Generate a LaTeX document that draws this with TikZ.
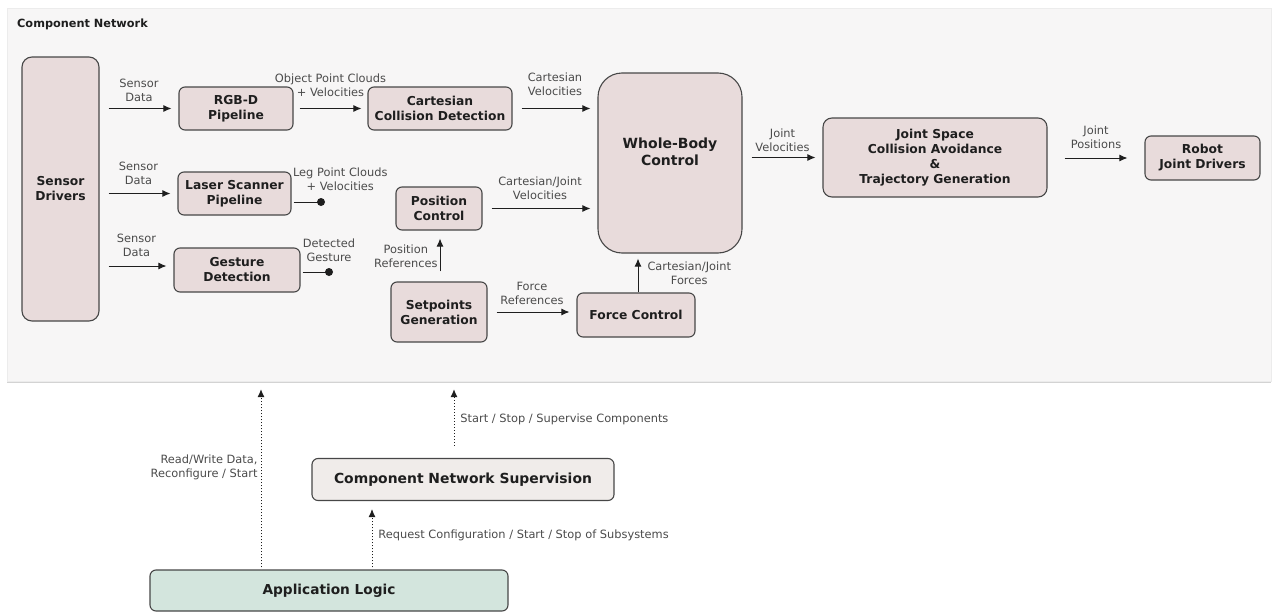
\documentclass[tikz,border=0pt]{standalone}
\usepackage{fontspec}
\setmainfont{DejaVu Sans}
\usepackage{tikz}
\usetikzlibrary{arrows.meta,shadows}
\definecolor{netPanelFill}{HTML}{F7F6F6}
\definecolor{netBoxFill}{HTML}{E8DBDB}
\definecolor{netBoxDraw}{HTML}{474747}
\definecolor{netSupFill}{HTML}{F0ECEA}
\definecolor{netAppFill}{HTML}{D3E5DD}
\definecolor{netText}{HTML}{1E1E1E}

\begin{document}
\begin{tikzpicture}[x=1pt, y=-1pt,
    box/.style={draw=netBoxDraw, fill=netBoxFill, line width=1.1pt, rounded corners=6pt,
      align=center, text=netText, inner sep=0pt, font=\bfseries\fontsize{12.3}{15}\selectfont},
    lbl/.style={font=\fontsize{11.4}{14}\selectfont, text=netText!80, align=center, inner sep=3pt},
    flow/.style={-{Latex[length=8pt,width=7pt]}, line width=1pt, draw=netText,
      shorten <=9pt, shorten >=7pt},
    ctrl/.style={flow, dotted, line width=0.9pt, shorten <=2pt, shorten >=8pt}]
    \useasboundingbox (0,0) rectangle (1274,613);

    % component network panel
    \node[draw=gray!15, fill=netPanelFill, minimum width=1264pt, minimum height=373pt,
      drop shadow={shadow xshift=0pt, shadow yshift=-1.5pt, opacity=0.35}] (network) at (639,194.5) {};
    \node[anchor=west, inner sep=0pt, text=netText, font=\bfseries\fontsize{11.3}{13}\selectfont] (nettitle) at (17,24) {Component Network};

    \node[box, rounded corners=10pt, minimum width=77pt, minimum height=264pt] (drivers) at (60.5,189) {Sensor\\Drivers};
    \node[box, minimum width=114pt, minimum height=43pt] (rgbd) at (236,108.5) {RGB-D\\Pipeline};
    \node[box, minimum width=113pt, minimum height=43pt] (laser) at (234.5,193.5) {Laser Scanner\\Pipeline};
    \node[box, minimum width=126pt, minimum height=44pt] (gesture) at (237,270) {Gesture\\Detection};
    \node[box, minimum width=144pt, minimum height=43pt] (cartesian) at (440,108.5) {Cartesian\\Collision Detection};
    \node[box, minimum width=86pt, minimum height=43pt] (position) at (439,208.5) {Position\\Control};
    \node[box, minimum width=96pt, minimum height=60pt] (setpoints) at (439,312) {Setpoints\\Generation};
    \node[box, minimum width=118pt, minimum height=44pt] (force) at (636,315) {Force Control};
    \node[box, rounded corners=24pt, minimum width=144pt, minimum height=180pt,
      font=\bfseries\fontsize{14}{17}\selectfont] (wbc) at (670,163) {Whole-Body\\Control\\[6pt]};
    \node[box, rounded corners=9pt, minimum width=224pt, minimum height=79pt] (jointspace) at (935,157.5)
      {Joint Space\\Collision Avoidance\\\&\\Trajectory Generation};
    \node[box, minimum width=115pt, minimum height=44pt] (robot) at (1202.5,158) {Robot\\Joint Drivers};

    \coordinate (legdot) at (321,202);
    \coordinate (gesturedot) at (329,272);

    % data flow inside the network
    \draw[flow] (drivers.east |- rgbd.west) -- node[lbl, above, yshift=3.5pt] {Sensor\\Data} (rgbd.west);
    \draw[flow] (drivers.east |- laser.west) -- node[lbl, above, yshift=5pt] {Sensor\\Data} (laser.west);
    \draw[flow] ([yshift=4pt]drivers.east |- gesture.west) -- node[lbl, above, yshift=6pt] {Sensor\\Data} ([yshift=4pt]gesture.west);
    \draw[flow, shorten <=6pt, shorten >=6pt] (rgbd.east) -- node[lbl, above, yshift=8pt] {Object Point Clouds\\+ Velocities} (cartesian.west);
    \draw[line width=1pt, netText, shorten <=2pt] (legdot -| laser.east) -- node[lbl, above right, pos=0, yshift=8pt, xshift=-2pt] {Leg Point Clouds\\+ Velocities} (legdot);
    \fill[netText] (legdot) circle (4pt);
    \draw[line width=1pt, netText, shorten <=2pt] (gesturedot -| gesture.east) -- (gesturedot);
    \fill[netText] (gesturedot) circle (4pt) node[lbl, above=7pt] {Detected\\Gesture};
    \draw[flow] (cartesian.east) -- node[lbl, above, yshift=9pt] {Cartesian\\Velocities} (cartesian.east -| wbc.west);
    \draw[flow] (position.east) -- node[lbl, above, yshift=5pt] {Cartesian/Joint\\Velocities} (position.east -| wbc.west);
    \draw[flow, shorten <=10pt, shorten >=8pt] ([xshift=1pt]position.south |- setpoints.north) -- node[lbl, left, inner sep=2pt] {Position\\References} ([xshift=1pt]position.south);
    \draw[flow] (setpoints.east) -- node[lbl, above, yshift=3.5pt] {Force\\References} (setpoints.east -| force.west);
    \draw[flow, shorten <=0pt, shorten >=5pt] ([xshift=2pt]force.north) -- node[lbl, right, xshift=6pt] {Cartesian/Joint\\Forces} ([xshift=2pt]force.north |- wbc.south);
    \draw[flow] (wbc.east |- jointspace.west) -- node[lbl, above, yshift=2.5pt] {Joint\\Velocities} (jointspace.west);
    \draw[flow, shorten <=17pt, shorten >=17pt] (jointspace.east |- robot.west) -- node[lbl, above, yshift=6pt] {Joint\\Positions} (robot.west);

    % supervision and application logic
    \node[box, fill=netSupFill, minimum width=302pt, minimum height=42pt,
      font=\bfseries\fontsize{13.9}{16}\selectfont] (supervision) at (463,479.5) {Component Network Supervision};
    \node[box, fill=netAppFill, minimum width=358pt, minimum height=41pt,
      font=\bfseries\fontsize{13.7}{16}\selectfont] (applogic) at (329,590.5) {Application Logic};

    \draw[ctrl] ([xshift=-68pt]applogic.north) -- node[lbl, left, pos=0.54, align=right] {Read/Write Data,\\Reconfigure / Start} ([xshift=-68pt]applogic.north |- network.south);
    \draw[ctrl, shorten <=12pt] ([xshift=-9pt]supervision.north) -- node[lbl, right, xshift=3pt] {Start / Stop / Supervise Components} ([xshift=-9pt]supervision.north |- network.south);
    \draw[ctrl, shorten >=8pt] ([xshift=43pt]applogic.north) -- node[lbl, right, xshift=3pt] {Request Configuration / Start / Stop of Subsystems} ([xshift=43pt]applogic.north |- supervision.south);
\end{tikzpicture}
\end{document}
